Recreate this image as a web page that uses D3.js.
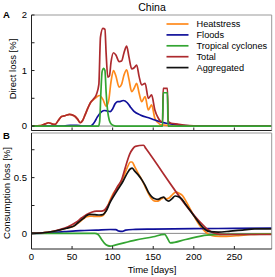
<!DOCTYPE html>
<html><head><meta charset="utf-8">
<script src="https://cdn.jsdelivr.net/npm/d3@7"></script>
<style>body{margin:0;background:#fff}svg{display:block}text{font-family:"Liberation Sans",Arial,sans-serif}</style>
</head><body>
<svg id="c" width="275" height="277"></svg>
<script>
const title = "China";
const seriesNames = ["Heatstress","Floods","Tropical cyclones","Total","Aggregated"];
const seriesColors = ["#ff8a1c","#10109a","#33a532","#ad2a2e","#111111"];
const xTicks = [0,50,100,150,200,250];
const yTicksA = [0,0.5,1,1.5,2];
const yLabelsA = [0,1,2];
const yTicksB = [0,0.25,0.5,0.75];
const yLabelsB = [0,0.5];

// Panel A: direct loss [%]  (time in days, value)
const heatA = [[0,0],[12,0.01],[17,0.04],[21,0.06],[25,0.04],[29,0.03],[33,0.1],[37,0.17],[42,0.19],[47,0.21],[53,0.18],[57,0.12],[60,0.06],[63,0.1],[66,0.2],[70,0.34],[73,0.43],[76,0.47],[80,0.52],[84,0.55],[88,0.48],[92,0.36],[95,0.45],[98,0.8],[101,1.0],[104,0.9],[108,0.7],[111,0.75],[114,0.92],[117.3,1.01],[120,0.85],[123.5,0.62],[126.5,0.68],[129.6,0.77],[132.5,0.6],[135.8,0.44],[140,0.53],[144,0.29],[148,0.38],[152,0.14],[156,0.06],[160,0.02],[170,0.01],[180,0],[296,0]];
const floodA = [[0,0],[40,0],[48,0.015],[56,0.015],[62,0],[72,0],[75,0.02],[78,0.08],[81,0.16],[86.5,0.26],[90,0.28],[94,0.27],[97,0.26],[100,0.31],[103,0.4],[106,0.44],[109,0.44],[113,0.46],[118,0.42],[122,0.34],[126,0.27],[134,0.2],[146,0.14],[158,0.08],[166,0.05],[175,0.035],[185,0.015],[195,0.005],[205,0],[296,0]];
const tcA = [[0,0],[82.5,0],[84,0.08],[85.5,0.6],[87,0.98],[89,1.04],[90.5,1.0],[92,0.6],[94,0.25],[96,0.1],[98,0.04],[101,0.01],[104,0],[161.5,0],[162.3,0.6],[167.5,0.6],[168.3,0],[296,0]];
const totalA = [[0,0],[12,0.01],[17,0.04],[21,0.06],[25,0.04],[29,0.03],[33,0.1],[37,0.17],[42,0.19],[47,0.21],[53,0.18],[57,0.12],[60,0.06],[63,0.1],[66,0.2],[70,0.34],[73,0.43],[76,0.48],[80,0.57],[83,0.75],[85,1.6],[88,1.76],[90.5,1.74],[92,1.3],[94,0.88],[96,0.9],[98,1.15],[101,1.32],[104,1.28],[108,1.16],[111,1.17],[114,1.32],[117.3,1.44],[120,1.25],[123.5,1.03],[126.5,1.05],[129.6,1.1],[132.5,0.9],[135.8,0.74],[140,0.77],[144,0.5],[148,0.56],[152,0.29],[156,0.15],[160,0.08],[161.5,0.08],[162.3,0.68],[167.5,0.68],[168.5,0.08],[172,0.05],[180,0.035],[190,0.015],[200,0.005],[210,0],[296,0]];

// Panel B: consumption loss [%]
const heatB = [[0,0],[20,0.01],[35,0.03],[45,0.05],[52,0.065],[58,0.095],[64,0.13],[68,0.15],[72,0.155],[78,0.152],[84,0.152],[88,0.16],[92,0.21],[97,0.3],[101,0.36],[107,0.42],[113,0.5],[118,0.59],[122,0.64],[124,0.64],[127,0.6],[132,0.53],[136,0.48],[140,0.42],[144,0.36],[148,0.31],[152,0.29],[156,0.29],[160,0.31],[163,0.32],[166,0.31],[170,0.32],[174,0.35],[178,0.37],[182,0.36],[186,0.34],[191,0.28],[197,0.2],[203,0.12],[209,0.055],[215,0.01],[220,-0.015],[226,-0.024],[240,-0.026],[255,-0.02],[270,-0.01],[296,-0.005]];
const floodB = [[0,0],[20,0.005],[40,0.015],[60,0.025],[80,0.03],[97,0.035],[104,0.033],[108,0.02],[112,0.018],[116,0.03],[125,0.035],[150,0.038],[200,0.042],[250,0.045],[296,0.048]];
const tcB = [[0,0],[78,0],[82,-0.01],[86,-0.05],[90,-0.09],[94,-0.11],[97,-0.115],[103,-0.105],[128,-0.06],[150,-0.03],[164,-0.008],[168,-0.05],[171,-0.085],[190,-0.055],[216,-0.015],[235,-0.008],[296,-0.006]];
const totalB = [[0,0],[20,0.01],[35,0.035],[45,0.06],[55,0.1],[62,0.14],[68,0.17],[74,0.19],[80,0.2],[86,0.2],[90,0.21],[95,0.26],[101,0.35],[106,0.42],[111,0.48],[116,0.6],[121,0.71],[125,0.76],[128,0.78],[138,0.79],[141,0.76],[212,0.07],[218,0.03],[224,0.005],[232,-0.008],[250,-0.01],[296,-0.01]];
const aggB = [[0,0],[20,0.01],[35,0.03],[45,0.05],[52,0.065],[58,0.1],[64,0.135],[68,0.16],[72,0.17],[78,0.168],[84,0.165],[88,0.168],[92,0.2],[97,0.28],[101,0.33],[107,0.4],[113,0.47],[118,0.54],[122,0.58],[124,0.585],[127,0.56],[132,0.52],[136,0.48],[140,0.43],[144,0.37],[148,0.33],[152,0.31],[156,0.305],[160,0.32],[163,0.325],[166,0.3],[169,0.29],[173,0.31],[177,0.335],[181,0.33],[185,0.31],[190,0.26],[196,0.2],[202,0.14],[208,0.08],[214,0.035],[220,0.015],[230,0.012],[245,0.02],[260,0.03],[275,0.04],[296,0.04]];

const svg = d3.select("#c");
const x = d3.scaleLinear().domain([0,296]).range([31.5,271.7]);
const yA = d3.scaleLinear().domain([-0.08,2]).range([130.5,15]);
const yB = d3.scaleLinear().domain([-0.14,0.9]).range([249,133]);

function panel(y, seriesList, ticks, labels, showX){
  const g = svg.append("g");
  const [y0,y1] = y.range();
  g.append("line").attr("x1",x.range()[0]).attr("x2",x.range()[1]).attr("y1",y(0)).attr("y2",y(0))
    .attr("stroke","#8a8a8a").attr("stroke-width",1);
  const line = d3.line().x(d=>x(d[0])).y(d=>y(d[1])).curve(d3.curveMonotoneX);
  seriesList.forEach(s=>{
    g.append("path").datum(s.data).attr("d",line).attr("fill","none")
      .attr("stroke",seriesColors[s.i]).attr("stroke-width",1.7).attr("stroke-linejoin","round");
  });
  const xl=x.range()[0], xr=x.range()[1];
  g.append("line").attr("x1",xl).attr("x2",xr).attr("y1",y1).attr("y2",y1).attr("stroke","#999");
  g.append("line").attr("x1",xr).attr("x2",xr).attr("y1",y1).attr("y2",y0).attr("stroke","#999");
  g.append("line").attr("x1",xl).attr("x2",xl).attr("y1",y1).attr("y2",y0).attr("stroke","#222");
  g.append("line").attr("x1",xl).attr("x2",xr).attr("y1",y0).attr("y2",y0).attr("stroke","#222");
  ticks.forEach(t=>{
    g.append("line").attr("x1",xl).attr("x2",xl+3).attr("y1",y(t)).attr("y2",y(t)).attr("stroke","#222");
  });
  labels.forEach(t=>{
    g.append("text").attr("x",27).attr("y",y(t)).attr("dy","0.35em").attr("text-anchor","end")
      .attr("font-size",9.5).text(t);
  });
  xTicks.forEach(t=>{
    g.append("line").attr("x1",x(t)).attr("x2",x(t)).attr("y1",y0).attr("y2",y0-3).attr("stroke","#222");
    if(showX) g.append("text").attr("x",x(t)).attr("y",y0+11).attr("text-anchor","middle").attr("font-size",9.5).text(t);
  });
}

panel(yA, [{i:0,data:heatA},{i:1,data:floodA},{i:3,data:totalA},{i:2,data:tcA}], yTicksA, yLabelsA, false);
panel(yB, [{i:0,data:heatB},{i:1,data:floodB},{i:2,data:tcB},{i:3,data:totalB},{i:4,data:aggB}], yTicksB, yLabelsB, true);

svg.append("text").attr("x",152).attr("y",11).attr("text-anchor","middle").attr("font-size",10.5).text(title);
svg.append("text").attr("x",3).attr("y",18).attr("font-size",9.5).attr("font-weight","bold").text("A");
svg.append("text").attr("x",3).attr("y",138.5).attr("font-size",9.5).attr("font-weight","bold").text("B");
svg.append("text").attr("transform","translate(16,69) rotate(-90)").attr("text-anchor","middle").attr("font-size",9.5).text("Direct loss [%]");
svg.append("text").attr("transform","translate(9.5,193) rotate(-90)").attr("text-anchor","middle").attr("font-size",9.5).text("Consumption loss [%]");
svg.append("text").attr("x",152).attr("y",273).attr("text-anchor","middle").attr("font-size",9.5).text("Time [days]");

const leg = svg.append("g");
seriesNames.forEach((n,i)=>{
  const yy = 24 + i*10.9;
  leg.append("line").attr("x1",166.5).attr("x2",188.5).attr("y1",yy).attr("y2",yy)
    .attr("stroke",seriesColors[i]).attr("stroke-width",1.7);
  leg.append("text").attr("x",196.5).attr("y",yy).attr("dy","0.35em").attr("font-size",9.2).text(n);
});
</script>
</body></html>
